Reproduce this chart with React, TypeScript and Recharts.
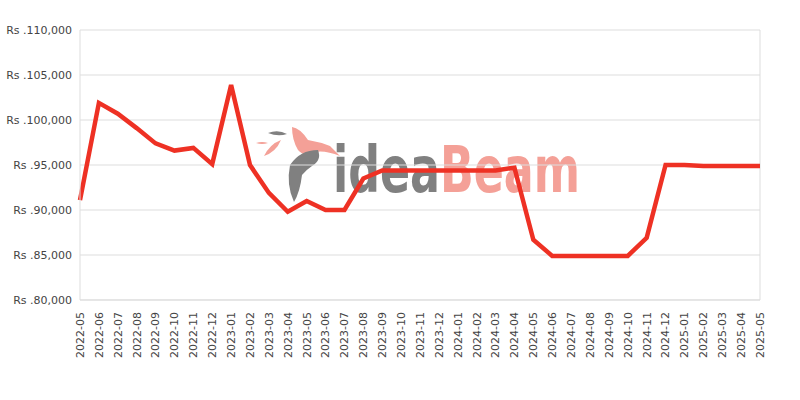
import { LineChart, Line, XAxis, YAxis, CartesianGrid, ReferenceLine } from 'recharts'

const months = [
  '2022-05', '2022-06', '2022-07', '2022-08', '2022-09', '2022-10', '2022-11', '2022-12',
  '2023-01', '2023-02', '2023-03', '2023-04', '2023-05', '2023-06', '2023-07', '2023-08',
  '2023-09', '2023-10', '2023-11', '2023-12', '2024-01', '2024-02', '2024-03', '2024-04',
  '2024-05', '2024-06', '2024-07', '2024-08', '2024-09', '2024-10', '2024-11', '2024-12',
  '2025-01', '2025-02', '2025-03', '2025-04', '2025-05',
]

const prices = [
  91100, 101900, 100700, 99100, 97400, 96600, 96900, 95100,
  103900, 95000, 91900, 89800, 91000, 90000, 90000, 93500,
  94400, 94400, 94400, 94400, 94400, 94400, 94400, 94700,
  86700, 84900, 84900, 84900, 84900, 84900, 86900, 95000,
  95000, 94900, 94900, 94900, 94900,
]

const yTicks = [80000, 85000, 90000, 95000, 100000, 105000, 110000]

const data = months.map((m, i) => ({ month: m, price: prices[i] }))

const fmt = (v: number) => 'Rs .' + v.toLocaleString('en-US')

function MonthTick(props: any) {
  const { x, y, payload } = props
  return (
    <g transform={`translate(${x},${y + 4})`}>
      <text transform="rotate(-90)" textAnchor="end" dy="0.35em" fontSize={11} fill="#444">
        {payload.value}
      </text>
    </g>
  )
}

// faded logo behind the plot
function Watermark() {
  return (
    <svg width={800} height={400} style={{ position: 'absolute', left: 0, top: 0 }}>
      <path d="M292,127 Q300,128 308,140 Q320,142 330,146 L340,156 Q325,150 315,152 Q305,158 298,150 Q292,140 292,127 Z" fill="#f4a097" />
      <path d="M290,165 Q300,150 318,150 Q322,160 312,166 Q306,170 302,175 Q300,192 294,202 Q286,185 290,165 Z" fill="#808080" />
      <path d="M268,133 Q278,129 287,134 Q278,137 268,133 Z" fill="#808080" />
      <path d="M256,143 Q262,141 268,143 Q262,145 256,143 Z" fill="#f4a097" />
      <path d="M264,156 Q270,144 281,140 Q276,152 264,156 Z" fill="#f4a097" />
      <text x={333} y={192} fontFamily="DejaVu Sans Condensed" fontWeight="bold" fontSize={64} textLength={247} lengthAdjust="spacingAndGlyphs">
        <tspan fill="#808080">idea</tspan>
        <tspan fill="#f4a097">Beam</tspan>
      </text>
    </svg>
  )
}

export default function App() {
  return (
    <div style={{ position: 'absolute', left: 0, top: 0, width: 800, height: 400, background: '#fff', fontFamily: 'DejaVu Sans' }}>
      <Watermark />
      <div style={{ position: 'absolute', left: 0, top: 0 }}>
        <LineChart width={800} height={400} data={data} margin={{ top: 30, right: 40, left: 0, bottom: 0 }}>
          <CartesianGrid stroke="#ddd" vertical={false} />
          <XAxis
            dataKey="month"
            interval={0}
            tickLine={false}
            axisLine={{ stroke: '#ddd' }}
            height={100}
            tick={<MonthTick />}
          />
          <YAxis
            domain={[80000, 110000]}
            ticks={yTicks}
            tickFormatter={fmt}
            tickLine={false}
            axisLine={{ stroke: '#ddd' }}
            width={80}
            tick={{ fontSize: 11, fill: '#444' }}
          />
          <ReferenceLine x="2025-05" stroke="#ddd" />
          <Line
            type="linear"
            dataKey="price"
            stroke="#ee3124"
            strokeWidth={4.5}
            dot={false}
            isAnimationActive={false}
          />
        </LineChart>
      </div>
    </div>
  )
}
